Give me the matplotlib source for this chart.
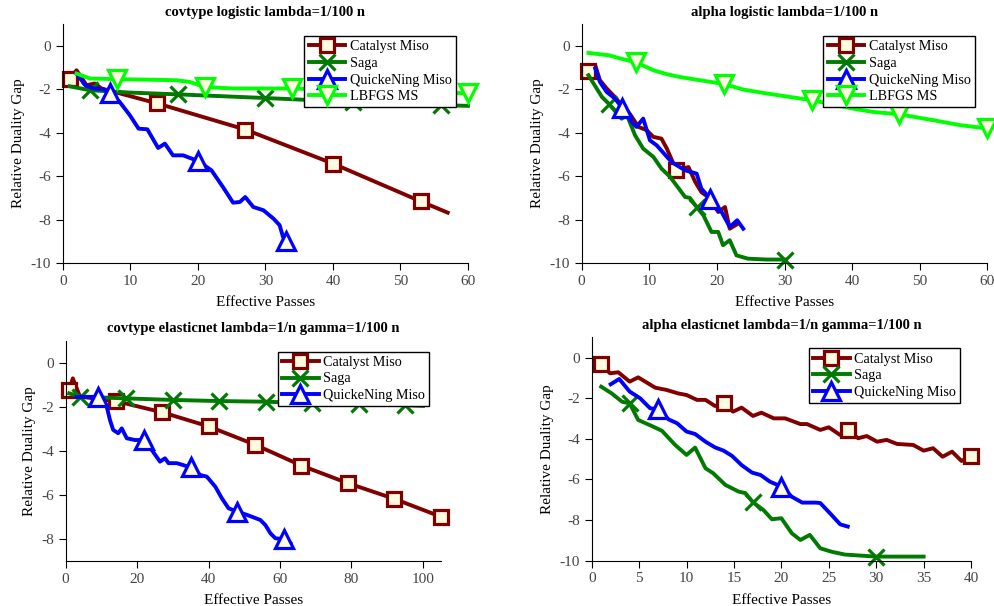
import matplotlib
matplotlib.use('Agg')
import matplotlib.pyplot as plt

plt.rcParams['font.family'] = ['Liberation Serif', 'DejaVu Serif']
plt.rcParams['axes.unicode_minus'] = False

RED, GREEN, BLUE, LIME = '#800000', '#007a00', '#0000ff', '#00ff00'
FACE = '#fffbe0'
STYLE = {
    'Catalyst Miso': dict(color=RED, marker='s', ms=10.5),
    'Saga': dict(color=GREEN, marker='x', ms=12),
    'QuickeNing Miso': dict(color=BLUE, marker='^', ms=13.5),
    'LBFGS MS': dict(color=LIME, marker='v', ms=13.5),
}

# ---- covtype logistic lambda=1/100 n
cat1_x = [1, 2, 3.5, 4.7, 5.7, 14, 27, 40, 53, 57]
cat1_y = [-1.53, -1.12, -1.81, -1.73, -1.96, -2.65, -3.85, -5.42, -7.16, -7.68]
cat1_m = [1, 14, 27, 40, 53]
saga1_x = [1, 4, 10, 17, 30, 43, 56, 60]
saga1_y = [-1.86, -2.04, -2.15, -2.23, -2.4, -2.58, -2.73, -2.76]
saga1_m = [4, 17, 30, 43, 56]
quick1_x = [2, 3.3, 4.5, 6, 7, 8.4, 9.9, 11.2, 12.5, 14.1, 15.1, 16.3, 17.8, 20,
            22, 23.7, 25.2, 26.2, 27, 28.2, 29.7, 31.2, 32.1, 32.6, 33]
quick1_y = [-1.27, -1.81, -1.96, -2.0, -2.15, -2.58, -3.19, -3.81, -3.84, -4.7, -4.5,
            -5.04, -5.04, -5.3, -5.73, -6.5, -7.22, -7.19, -6.96, -7.42, -7.57, -7.96,
            -8.26, -8.8, -9.0]
quick1_m = [7, 20, 33]
lbfgs1_x = [2, 4, 8, 12, 16.8, 18.8, 21, 25.2, 34, 47, 60]
lbfgs1_y = [-1.27, -1.5, -1.53, -1.55, -1.58, -1.66, -1.89, -1.96, -1.96, -2.08, -2.18]
lbfgs1_m = [8, 21, 34, 47, 60]

# ---- alpha logistic lambda=1/100 n
cat2_x = [1, 2, 2.7, 3.7, 4.9, 5.9, 7.1, 8.4, 9.6, 10.6, 11.8, 12.6, 14, 15.8, 16.8,
          17.7, 18.7, 20.2, 21.2, 21.9, 22.9]
cat2_y = [-1.17, -0.89, -1.58, -1.96, -2.35, -2.73, -3.12, -3.73, -3.88, -4.19, -4.27,
          -4.73, -5.73, -5.58, -6.27, -6.73, -6.96, -7.65, -7.42, -8.42, -8.23]
cat2_m = [1, 14]
saga2_x = [1, 3, 4, 5.9, 6.7, 7.9, 9.1, 10.6, 11.8, 13.1, 15.3, 16, 17, 18, 19.2, 20.2,
           20.9, 21.9, 22.9, 24.6, 27.4, 30]
saga2_y = [-1.35, -2.35, -2.66, -3.35, -3.19, -4.12, -4.73, -5.11, -5.65, -6.04, -6.96,
           -7.0, -7.42, -7.8, -8.57, -8.57, -9.18, -8.95, -9.65, -9.8, -9.84, -9.84]
saga2_m = [4, 17, 30]
quick2_x = [2, 2.7, 3.7, 4.9, 6, 7.4, 8.1, 9.1, 10.1, 11.1, 13.3, 15.3, 17, 17.7, 19,
            20.2, 20.7, 21.9, 23, 23.9]
quick2_y = [-1.04, -1.66, -2.12, -2.42, -2.85, -3.5, -3.73, -3.35, -4.35, -4.58, -5.35,
            -5.73, -5.88, -6.57, -7.03, -7.57, -7.65, -8.34, -8.03, -8.42]
quick2_m = [6, 19]
lbfgs2_x = [1, 4, 6, 8, 10.6, 12.6, 14.5, 17.5, 21, 23.9, 27.4, 30.8, 34, 40.2, 43.1,
            47, 52, 56, 60]
lbfgs2_y = [-0.32, -0.43, -0.6, -0.75, -1.12, -1.3, -1.43, -1.58, -1.75, -2.01, -2.19,
            -2.35, -2.5, -2.89, -3.04, -3.15, -3.42, -3.65, -3.8]
lbfgs2_m = [8, 21, 34, 47, 60]

# ---- covtype elasticnet lambda=1/n gamma=1/100 n
cat3_x = [1, 2, 4, 14, 27, 40, 53, 66, 79, 92, 105]
cat3_y = [-1.24, -0.71, -1.54, -1.74, -2.25, -2.89, -3.72, -4.67, -5.47, -6.18, -6.99]
cat3_m = [1, 14, 27, 40, 53, 66, 79, 92, 105]
saga3_x = [1, 4, 17, 30, 43, 56, 69, 82, 95, 100]
saga3_y = [-1.39, -1.54, -1.62, -1.69, -1.74, -1.77, -1.84, -1.89, -1.93, -1.96]
saga3_m = [4, 17, 30, 43, 56, 69, 82, 95]
quick3_x = [3, 9, 11.5, 12.4, 13.3, 14.7, 15.7, 17.1, 19.4, 22, 24.1, 26.4, 27.8, 28.8,
            31.1, 35, 37.7, 39.5, 41.9, 43.7, 45.6, 48, 50.8, 54.5, 55.9, 57.3, 58.7,
            61, 62.9]
quick3_y = [-1.55, -1.55, -2.0, -2.6, -3.05, -3.2, -2.98, -3.43, -3.51, -3.51, -3.96,
            -4.49, -4.34, -4.56, -4.56, -4.75, -5.1, -5.17, -5.63, -6.15, -6.61, -6.76,
            -6.91, -7.14, -7.37, -7.74, -7.97, -8.01, -8.2]
quick3_m = [9, 22, 35, 48, 61]

# ---- alpha elasticnet lambda=1/n gamma=1/100 n
cat4_x = [1, 1.93, 2.8, 4, 4.9, 6.7, 7.9, 9.1, 10, 11.1, 12, 13, 14, 14.9, 15.8, 17,
          17.9, 19.2, 20.4, 22, 22.7, 24.1, 25, 26.2, 27, 28.1, 29, 30.1, 31.1, 32.2,
          33.9, 35, 36, 37, 38, 39, 40]
cat4_y = [-0.31, -0.77, -0.72, -1.18, -0.97, -1.48, -1.59, -1.76, -1.84, -2.08, -2.08,
          -2.38, -2.25, -2.66, -2.46, -2.87, -2.71, -2.99, -2.99, -3.27, -3.27, -3.56,
          -3.43, -3.81, -3.56, -3.97, -3.86, -4.14, -4.05, -4.25, -4.3, -4.58, -4.46,
          -4.88, -4.63, -5.09, -4.83]
cat4_m = [1, 14, 27, 40]
saga4_x = [1, 2.1, 3.2, 4, 4.9, 6.3, 7.4, 8.8, 10, 10.9, 12, 12.8, 14.1, 15.5, 16.2, 17,
           18.1, 19, 20, 21.1, 22, 23, 24.1, 25.3, 26.7, 30, 35]
saga4_y = [-1.43, -1.76, -2.17, -2.25, -3.07, -3.36, -3.6, -4.3, -4.79, -4.43, -5.45,
           -5.69, -6.27, -6.6, -6.67, -7.12, -7.5, -7.96, -7.91, -8.65, -8.98, -8.73,
           -9.39, -9.56, -9.7, -9.8, -9.8]
saga4_m = [4, 17, 30]
quick4_x = [2, 2.9, 4, 5.1, 6.15, 7, 8.1, 9, 10, 10.9, 12, 13, 13.9, 14.8, 15.8, 16.9,
            17.8, 18.8, 20, 21.1, 22.2, 23.6, 24.1, 25.3, 26.2, 27]
quick4_y = [-1.31, -1.05, -1.67, -2.0, -2.49, -2.55, -3.04, -3.23, -3.64, -3.76, -4.14,
            -4.42, -4.58, -4.84, -5.29, -5.66, -5.78, -6.11, -6.35, -6.85, -7.14, -7.14,
            -7.16, -7.75, -8.21, -8.32]
quick4_m = [7, 20]

panels = [
    dict(rect=[0.0633, 0.566, 0.407, 0.394], title='covtype logistic lambda=1/100 n',
         xlim=(0, 60), xticks=range(0, 61, 10), ylim=(-10, 1), yticks=range(-10, 1, 2),
         leg=(0.970, 0.950),
         series=[('Catalyst Miso', cat1_x, cat1_y, cat1_m), ('Saga', saga1_x, saga1_y, saga1_m),
                 ('QuickeNing Miso', quick1_x, quick1_y, quick1_m),
                 ('LBFGS MS', lbfgs1_x, lbfgs1_y, lbfgs1_m)]),
    dict(rect=[0.5846, 0.566, 0.4077, 0.394], title='alpha logistic lambda=1/100 n',
         xlim=(0, 60), xticks=range(0, 61, 10), ylim=(-10, 1), yticks=range(-10, 1, 2),
         leg=(0.969, 0.950),
         series=[('Catalyst Miso', cat2_x, cat2_y, cat2_m), ('Saga', saga2_x, saga2_y, saga2_m),
                 ('QuickeNing Miso', quick2_x, quick2_y, quick2_m),
                 ('LBFGS MS', lbfgs2_x, lbfgs2_y, lbfgs2_m)]),
    dict(rect=[0.066, 0.0743, 0.377, 0.3635], title='covtype elasticnet lambda=1/n gamma=1/100 n',
         xlim=(0, 105), xticks=range(0, 101, 20), ylim=(-9, 1), yticks=range(-8, 1, 2),
         leg=(0.969, 0.950),
         series=[('Catalyst Miso', cat3_x, cat3_y, cat3_m), ('Saga', saga3_x, saga3_y, saga3_m),
                 ('QuickeNing Miso', quick3_x, quick3_y, quick3_m)]),
    dict(rect=[0.5947, 0.0748, 0.3812, 0.3685], title='alpha elasticnet lambda=1/n gamma=1/100 n',
         xlim=(0, 40), xticks=range(0, 41, 5), ylim=(-10, 1), yticks=range(-10, 1, 2),
         leg=(0.971, 0.951),
         series=[('Catalyst Miso', cat4_x, cat4_y, cat4_m), ('Saga', saga4_x, saga4_y, saga4_m),
                 ('QuickeNing Miso', quick4_x, quick4_y, quick4_m)]),
]

fig = plt.figure(figsize=(9.95, 6.06), dpi=100)

for p in panels:
    ax = fig.add_axes(p['rect'])
    for name, x, y, m in p['series']:
        st = STYLE[name]
        ax.plot(x, y, color=st['color'], lw=2.8, marker=st['marker'], ms=st['ms'],
                markevery=[x.index(v) for v in m], mfc=FACE, mec=st['color'], mew=2.3,
                label=name, clip_on=False)
    ax.set_xlim(*p['xlim'])
    ax.set_ylim(*p['ylim'])
    ax.set_xticks(list(p['xticks']))
    ax.set_yticks(list(p['yticks']))
    for s in ['top', 'right']:
        ax.spines[s].set_visible(False)
    ax.tick_params(direction='out', length=5, labelsize=11, labelcolor='#444444')
    ax.set_title(p['title'], fontsize=10.5, fontweight='bold', pad=6)
    ax.set_xlabel('Effective Passes', fontsize=11, labelpad=6)
    ax.set_ylabel('Relative Duality Gap', fontsize=11)
    leg = ax.legend(loc='upper right', bbox_to_anchor=p['leg'], borderaxespad=0,
                    fontsize=10.2, handlelength=2.6, labelspacing=0.25, handletextpad=0.3,
                    borderpad=0.3, fancybox=False, framealpha=1)
    leg.get_frame().set_edgecolor('black')
    leg.get_frame().set_linewidth(1.0)

fig.savefig('out.png', dpi=100, facecolor='white')
